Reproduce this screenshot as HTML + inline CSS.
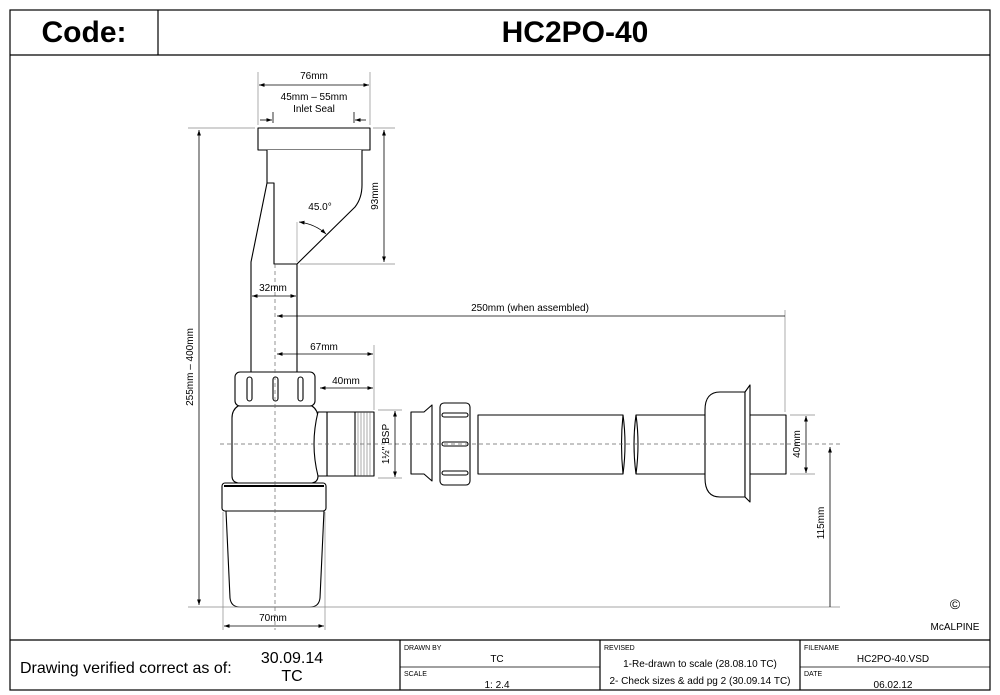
<!DOCTYPE html>
<html><head><meta charset="utf-8"><style>
body{margin:0;background:#fff}
svg{display:block;font-family:"Liberation Sans",Arial,sans-serif}
</style></head><body>
<svg width="1000" height="695" viewBox="0 0 1000 695" xmlns="http://www.w3.org/2000/svg">
<defs>
<marker id="a" viewBox="0 0 10 10" refX="10" refY="5" markerWidth="7" markerHeight="7" orient="auto-start-reverse"><path d="M0,1.5 L10,5 L0,8.5z" fill="#000"/></marker>
</defs>
<g fill="none" stroke="#000" stroke-width="1.2">
<rect x="10" y="10" width="980" height="680"/>
<line x1="10" y1="55" x2="990" y2="55"/>
<line x1="158" y1="10" x2="158" y2="55"/>
<line x1="10" y1="640" x2="990" y2="640"/>
<line x1="400" y1="640" x2="400" y2="690"/>
<line x1="600" y1="640" x2="600" y2="690"/>
<line x1="800" y1="640" x2="800" y2="690"/>
<line x1="400" y1="667" x2="600" y2="667" stroke-width="0.8"/>
<line x1="800" y1="667" x2="990" y2="667" stroke-width="0.8"/>
</g>
<text x="84" y="42" font-size="30" font-weight="bold" text-anchor="middle">Code:</text>
<text x="575" y="42" font-size="30" font-weight="bold" text-anchor="middle">HC2PO-40</text>
<text x="20" y="673" font-size="16">Drawing verified  correct as of:</text>
<text x="292" y="663" font-size="16" text-anchor="middle">30.09.14</text>
<text x="292" y="681" font-size="16" text-anchor="middle">TC</text>
<g font-size="7"><text x="404" y="650">DRAWN BY</text><text x="404" y="676">SCALE</text><text x="604" y="650">REVISED</text><text x="804" y="650">FILENAME</text><text x="804" y="676">DATE</text></g>
<g font-size="10" text-anchor="middle"><text x="497" y="662">TC</text><text x="497" y="688">1: 2.4</text>
<text x="700" y="667">1-Re-drawn to scale (28.08.10 TC)</text><text x="700" y="684">2- Check sizes &amp; add pg 2 (30.09.14 TC)</text>
<text x="893" y="662">HC2PO-40.VSD</text><text x="893" y="688">06.02.12</text></g>

<!-- parts -->
<g fill="#fff" stroke="#000" stroke-width="1.1" stroke-linejoin="round">
<rect x="258" y="128" width="112" height="22"/>
<path d="M267 150 L267 183 L274 183 L274 264 L297 264 L355 207 Q362 198 362 185 L362 150"/>
<path d="M267 183 L251 262 L251 372 M297 264 L297 372"/>
<rect x="235" y="372" width="80" height="34" rx="5"/>
<rect x="247" y="377" width="5" height="24" rx="2.5"/><rect x="273" y="377" width="5" height="24" rx="2.5"/><rect x="298" y="377" width="5" height="24" rx="2.5"/>
<rect x="327" y="412" width="47" height="64"/>
<line x1="355" y1="412" x2="355" y2="476"/>
<g stroke-width="0.5" stroke="#555"><line x1="358" y1="412" x2="358" y2="476"/><line x1="361" y1="412" x2="361" y2="476"/><line x1="364" y1="412" x2="364" y2="476"/><line x1="367" y1="412" x2="367" y2="476"/><line x1="370" y1="412" x2="370" y2="476"/></g>
<path d="M238 406 L312 406 Q318 410 318 418 L318 476 Q318 482 312 483 L238 483 Q232 482 232 476 L232 418 Q232 410 238 406z"/>
<path d="M318 412 L327 412 L327 476 L318 476 Q310 444 318 412z"/>
<rect x="222" y="483" width="104" height="28" rx="3"/>
<line x1="224" y1="486" x2="324" y2="486" stroke-width="2"/>
<path d="M226 511 L324 511 L320 598 Q319 607 310 607 L240 607 Q231 607 230 598z"/>
<path d="M411 412 L424 412 L432 405 L432 481 L424 474 L411 474z"/>
<rect x="440" y="403" width="30" height="82" rx="4"/>
<rect x="442" y="413" width="26" height="4" rx="2"/><rect x="442" y="442" width="26" height="4" rx="2"/><rect x="442" y="471" width="26" height="4" rx="2"/>
<path d="M478 415 L623 415 Q620 444 623 474 L478 474z"/>
<path d="M705 415 L636 415 Q640 444 636 474 L705 474"/>
<path d="M623 415 Q627 444 623 474 M636 415 Q632 444 636 474"/>
<rect x="745" y="415" width="41" height="59"/>
<path d="M745 392 L720 392 Q705 392 705 410 L705 478 Q705 497 720 497 L745 497z"/>
<path d="M745 392 L750 385 L750 502 L745 497z"/>
</g>

<!-- centre lines -->
<g stroke="#666" stroke-width="0.7" stroke-dasharray="4,3" fill="none">
<line x1="275" y1="264" x2="275" y2="630"/>
<line x1="220" y1="444" x2="840" y2="444"/>
</g>
<!-- extension lines -->
<g stroke="#888" stroke-width="0.7" fill="none">
<line x1="258" y1="72" x2="258" y2="125"/><line x1="370" y1="72" x2="370" y2="125"/>
<line x1="188" y1="128" x2="255" y2="128"/><line x1="373" y1="128" x2="395" y2="128"/>
<line x1="300" y1="264" x2="395" y2="264"/>
<line x1="188" y1="607" x2="840" y2="607"/>
<line x1="374" y1="345" x2="374" y2="410"/>
<line x1="785" y1="310" x2="785" y2="412"/>
<line x1="223" y1="512" x2="223" y2="630"/><line x1="325" y1="512" x2="325" y2="630"/>
<line x1="378" y1="410" x2="402" y2="410"/><line x1="378" y1="478" x2="402" y2="478"/>
<line x1="790" y1="415" x2="815" y2="415"/><line x1="790" y1="474" x2="815" y2="474"/>
</g>
<!-- dimension lines -->
<g stroke="#000" stroke-width="0.8" fill="none" marker-start="url(#a)" marker-end="url(#a)">
<line x1="259" y1="85" x2="369" y2="85"/>
<line x1="199" y1="130" x2="199" y2="605"/>
<line x1="384" y1="130" x2="384" y2="262"/>
<line x1="252" y1="296" x2="296" y2="296"/>
<line x1="277" y1="354" x2="373" y2="354"/>
<line x1="320" y1="388" x2="373" y2="388"/>
<line x1="224" y1="626" x2="324" y2="626"/>
<line x1="395" y1="411" x2="395" y2="477"/>
<line x1="806" y1="416" x2="806" y2="473"/>
</g>
<g stroke="#000" stroke-width="0.8" fill="none">
<line x1="297" y1="222" x2="297" y2="262" stroke="#888" stroke-width="0.6"/>
<line x1="277" y1="316" x2="785" y2="316" marker-start="url(#a)"/>
<line x1="830" y1="447" x2="830" y2="607" marker-start="url(#a)"/>
<line x1="260" y1="120" x2="272" y2="120" marker-end="url(#a)"/>
<line x1="366" y1="120" x2="355" y2="120" marker-end="url(#a)"/>
<line x1="273" y1="112" x2="273" y2="123"/><line x1="354" y1="112" x2="354" y2="123"/>
<path d="M299 222 Q315 224 326 234" marker-start="url(#a)" marker-end="url(#a)"/>
</g>
<g font-size="10" text-anchor="middle">
<text x="314" y="79">76mm</text>
<text x="314" y="100">45mm – 55mm</text><text x="314" y="112">Inlet Seal</text>
<text x="320" y="210">45.0°</text>
<text x="273" y="291">32mm</text>
<text x="530" y="311">250mm (when assembled)</text>
<text x="324" y="350">67mm</text>
<text x="346" y="384">40mm</text>
<text x="273" y="621">70mm</text>
<text transform="translate(193,367) rotate(-90)">255mm – 400mm</text>
<text transform="translate(378,196) rotate(-90)">93mm</text>
<text transform="translate(389,444) rotate(-90)">1½" BSP</text>
<text transform="translate(800,444) rotate(-90)">40mm</text>
<text transform="translate(824,523) rotate(-90)">115mm</text>
<text x="955" y="609" font-size="14">©</text>
<text x="955" y="630">McALPINE</text>
</g>
</svg>
</body></html>
